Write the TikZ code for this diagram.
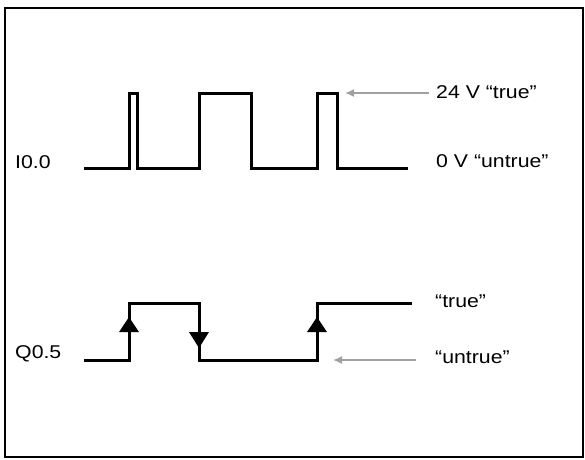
\documentclass[tikz,border=0pt]{standalone}
\usepackage{fontspec}
\setmainfont{Liberation Sans}
\usetikzlibrary{arrows.meta,positioning}
\definecolor{pointer}{RGB}{160,160,160}
\newcommand{\widetext}[1]{\scalebox{1.15}[1]{#1}}

\begin{document}
\begin{tikzpicture}[x=1pt,y=-1pt,font=\fontsize{18.5}{22}\selectfont,
    signal/.style={line width=3pt},
    label/.style={anchor=base west,inner sep=0pt},
    pointer arrow/.style={draw=pointer,line width=1.5pt,-{Latex[length=9pt,width=8pt]}}]
    \useasboundingbox (0,0) rectangle (585,459);
    \draw[line width=2pt] (5,8) rectangle (583,457);
    % input I0.0
    \node[label] (in) at (15,168) {\widetext{I0.0}};
    \draw[signal] (84,168) -- (129,168) -- (129,93) -- (137,93) -- (137,168) -- (199,168)
      -- (199,93) -- (251,93) -- (251,168) -- (317,168) -- (317,93) -- (337,93) -- (337,168) -- (408,168);
    \node[label] (hi) at (436,98) {\widetext{24 V “true”}};
    \node[label] (lo) at (436,167) {\widetext{0 V “untrue”}};
    \coordinate (hitip) at (345,93);
    \draw[pointer arrow,shorten <=7pt] (hi.west |- hitip) -- (hitip);
    % output Q0.5
    \node[label] (out) at (15,358) {\widetext{Q0.5}};
    \draw[signal] (84,360) -- (129,360) -- (129,303) -- (199,303) -- (199,360) -- (317,360)
      -- (317,303) -- (412,303);
    \foreach \x/\tip/\base in {129/317/332, 199/348/332, 317/317/332}
      \fill (\x,\tip) -- (\x-10,\base) -- (\x+10,\base) -- cycle;
    \node[label] (tru) at (435,307) {\widetext{“true”}};
    \node[label] (untru) at (435,363) {\widetext{“untrue”}};
    \coordinate (lotip) at (333,360);
    \draw[pointer arrow,shorten <=19pt] (untru.west |- lotip) -- (lotip);
\end{tikzpicture}
\end{document}
